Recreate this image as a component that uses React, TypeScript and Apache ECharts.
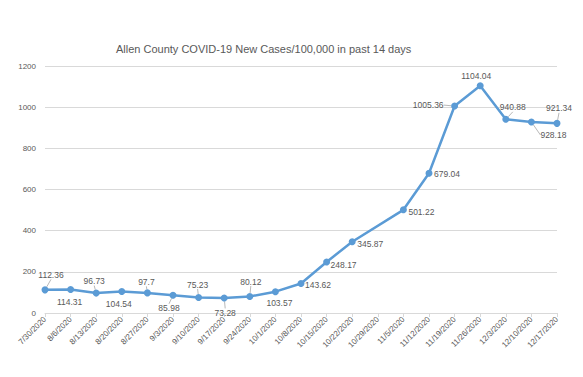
import React, { useEffect, useRef } from "react";
import * as echarts from "echarts";

const TITLE = "Allen County COVID-19 New Cases/100,000 in past 14 days";

const categories = [
  "7/30/2020", "8/6/2020", "8/13/2020", "8/20/2020", "8/27/2020", "9/3/2020",
  "9/10/2020", "9/17/2020", "9/24/2020", "10/1/2020", "10/8/2020", "10/15/2020",
  "10/22/2020", "10/29/2020", "11/5/2020", "11/12/2020", "11/19/2020",
  "11/26/2020", "12/3/2020", "12/10/2020", "12/17/2020",
];

const casesPer100k: (number | null)[] = [
  112.36, 114.31, 96.73, 104.54, 97.7, 85.98, 75.23, 73.28, 80.12, 103.57,
  143.62, 248.17, 345.87, null, 501.22, 679.04, 1005.36, 1104.04, 940.88,
  928.18, 921.34,
];

const yTicks = { min: 0, max: 1200, interval: 200 };

// label placement relative to point: [dx, dy, align, leaderLine]
const labelPlacement: [number, number, "left" | "center" | "right", boolean][] = [
  [6, -15, "center", true],
  [-1, 13, "center", false],
  [-2, -12, "center", true],
  [-3, 13, "center", false],
  [-1, -11, "center", true],
  [-4, 13, "center", true],
  [-1, -13, "center", true],
  [1, 15, "center", true],
  [1, -15, "center", true],
  [4, 11, "center", false],
  [4, 2, "left", false],
  [4, 3, "left", false],
  [5, 2, "left", false],
  [0, 0, "center", false],
  [5, 2, "left", false],
  [5, 1, "left", false],
  [-11, -1, "right", true],
  [-4, -10, "center", false],
  [7, -12, "center", true],
  [9, 13, "left", true],
  [2, -15, "center", true],
];

const FONT = "'Liberation Sans', Arial, sans-serif";
const GREY = "#595959";

export default function App() {
  const ref = useRef<HTMLDivElement>(null);

  useEffect(() => {
    if (!ref.current) return;
    const chart = echarts.init(ref.current, null, { renderer: "svg" });
    const data = casesPer100k.map((v, i) => {
      const [dx, dy, align, leader] = labelPlacement[i];
      return {
        value: v,
        label: {
          position: "inside",
          offset: [dx, dy],
          align,
          verticalAlign: "middle",
        },
        labelLine: { show: leader },
      };
    });
    chart.setOption({
      animation: false,
      backgroundColor: "#ffffff",
      textStyle: { fontFamily: FONT },
      title: {
        text: TITLE,
        left: 111,
        top: 38,
        textStyle: { fontFamily: FONT, fontSize: 11, fontWeight: "normal", color: GREY },
      },
      grid: { left: 45, right: 26, top: 66, bottom: 64, containLabel: false },
      xAxis: {
        type: "category",
        data: categories,
        boundaryGap: false,
        axisLine: { lineStyle: { color: "#D9D9D9", width: 1 } },
        axisTick: { show: true, length: 4, lineStyle: { color: "#D9D9D9" } },
        axisLabel: {
          rotate: 45,
          color: GREY,
          fontSize: 8,
          fontFamily: FONT,
          margin: 5,
          interval: 0,
        },
        splitLine: { show: false },
      },
      yAxis: {
        type: "value",
        min: yTicks.min,
        max: yTicks.max,
        interval: yTicks.interval,
        axisLine: { show: false },
        axisTick: { show: false },
        axisLabel: {
          color: GREY,
          fontSize: 8,
          fontFamily: FONT,
          margin: 9,
          formatter: (v: number) => String(v),
        },
        splitLine: { lineStyle: { color: "#D9D9D9", width: 1 } },
      },
      series: [
        {
          type: "line",
          data,
          connectNulls: true,
          symbol: "circle",
          symbolSize: 7,
          itemStyle: { color: "#5B9BD5" },
          lineStyle: { color: "#5B9BD5", width: 2.5 },
          label: {
            show: true,
            color: GREY,
            fontSize: 8.5,
            fontFamily: FONT,
          },
          labelLine: {
            show: false,
            lineStyle: { color: "#A6A6A6", width: 0.8 },
          },
        },
      ],
    });
    return () => chart.dispose();
  }, []);

  return (
    <div
      ref={ref}
      style={{ position: "fixed", left: 0, top: 0, width: 583, height: 377 }}
    />
  );
}
